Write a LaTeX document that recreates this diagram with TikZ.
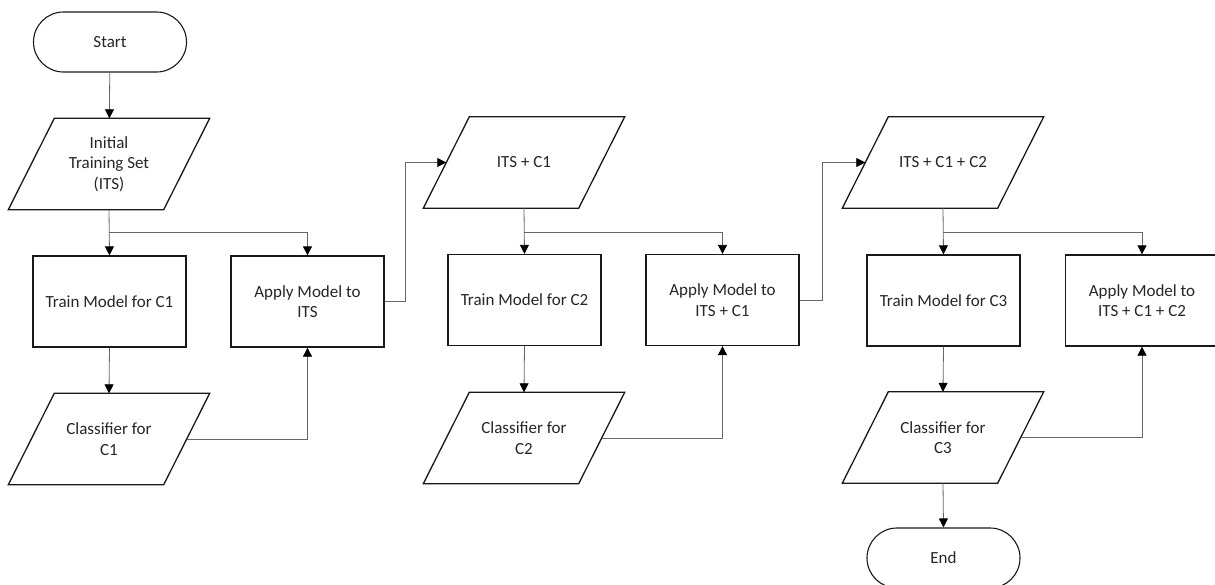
\documentclass[tikz,border=0pt]{standalone}
\usepackage{fontspec}
\setmainfont{Carlito}
\usetikzlibrary{arrows.meta}
\begin{document}
\begin{tikzpicture}[x=1pt,y=-1pt,
  txt/.style={font=\fontsize{17}{20.4}\selectfont, text=black!85, align=center, inner sep=0pt},
  procbox/.style={txt, draw=black!90, line width=1.3pt, minimum width=153pt, minimum height=91pt},
  termbox/.style={txt, draw=black!90, line width=1.1pt, rounded corners=30pt, minimum width=153pt, minimum height=60pt},
  parabox/.style={txt, minimum width=155pt, minimum height=91pt},
  paraline/.style={draw=black!90, line width=1.3pt, line join=miter},
  conn/.style={draw=black!60, line width=0.8pt, -{Triangle[width=9pt,length=9pt,fill=black,color=black]}},
  plain/.style={draw=black!60, line width=0.8pt}
]
\useasboundingbox (0,0) rectangle (1215,584);
\clip (0,0) rectangle (1215,584);
\fill[white] (0,0) rectangle (1215,584);

% column 1
\node[termbox] (start) at (110,42) {Start};
\node[parabox] (its) at (109,164) {Initial\\Training Set\\(ITS)};
\node[procbox] (train1) at (109.5,301.5) {Train Model for C1};
\node[procbox] (apply1) at (307.5,301.5) {Apply Model to\\ITS};
\node[parabox] (cls1) at (109,439) {Classifier for\\C1};
% column 2
\node[parabox] (its1) at (524,162.5) {ITS + C1};
\node[procbox] (train2) at (524.5,300) {Train Model for C2};
\node[procbox] (apply2) at (722.5,300) {Apply Model to\\ITS + C1};
\node[parabox] (cls2) at (524,438) {Classifier for\\C2};
% column 3
\node[parabox] (its2) at (943,162.5) {ITS + C1 + C2};
\node[procbox] (train3) at (943.5,300.5) {Train Model for C3};
\node[procbox] (apply3) at (1142,300.5) {Apply Model to\\ITS + C1 + C2};
\node[parabox] (cls3) at (943,437.5) {Classifier for\\C3};
\node[termbox] (end) at (943.5,558) {End};

% parallelogram outlines
\foreach \n in {its,cls1,its1,cls2,its2,cls3}{
  \draw[paraline] ([xshift=23pt]\n.north west) -- ([xshift=23pt]\n.north east)
     -- ([xshift=-23pt]\n.south east) -- ([xshift=-23pt]\n.south west) -- cycle;
}

% split points
\coordinate (s1) at (109,232);
\coordinate (s2) at (524,232);
\coordinate (s3) at (943,232);

% connectors column 1
\draw[conn] (start) -- (its);
\draw[conn] (its.south) -- (train1.north);
\draw[conn] (s1) -| (apply1.north);
\draw[conn] (train1.south) -- (cls1.north);
\draw[conn] (cls1.east) -| (apply1.south);
\draw[conn] (apply1.east) -- ++(21,0) |- (its1.west);

% connectors column 2
\draw[conn] (its1.south) -- (train2.north);
\draw[conn] (s2) -| (apply2.north);
\draw[conn] (train2.south) -- (cls2.north);
\draw[conn] (cls2.east) -| (apply2.south);
\draw[conn] (apply2.east) -- ++(23,0) |- (its2.west);

% connectors column 3
\draw[conn] (its2.south) -- (train3.north);
\draw[conn] (s3) -| (apply3.north);
\draw[conn] (train3.south) -- (cls3.north);
\draw[conn] (cls3.east) -| (apply3.south);
\draw[conn] (cls3.south) -- (end.north);
\end{tikzpicture}
\end{document}
